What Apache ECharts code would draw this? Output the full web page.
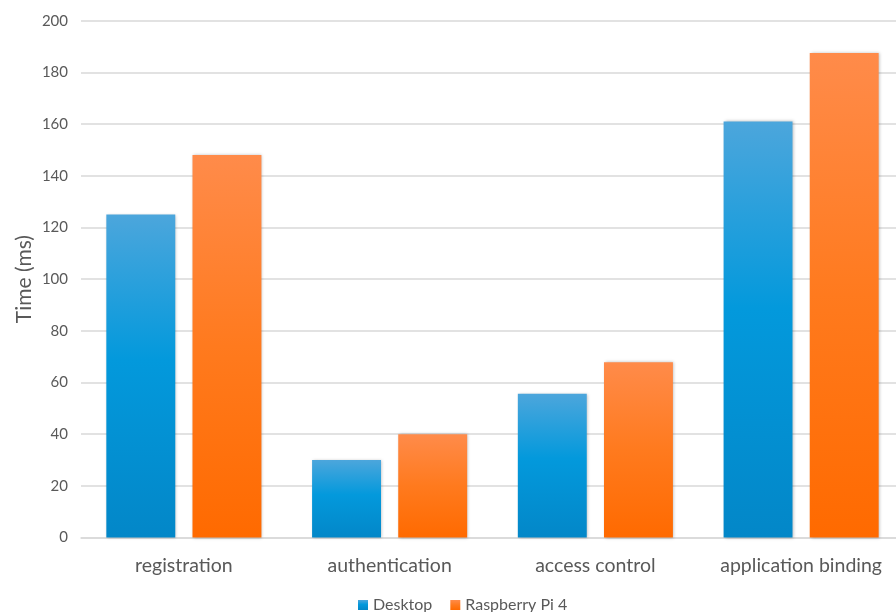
<!DOCTYPE html>
<html>
<head>
<meta charset="utf-8">
<script src="https://cdn.jsdelivr.net/npm/echarts@6/dist/echarts.min.js"></script>
<style>html,body{margin:0;padding:0;background:#fff;overflow:hidden}#c{width:910px;height:612px}</style>
</head>
<body>
<div id="c"></div>
<script>
const categories = ['registration', 'authentication', 'access control', 'application binding'];
const desktop = [125, 30, 55.6, 161];
const raspberry = [148, 40, 67.8, 187.5];
const seriesNames = ['Desktop', 'Raspberry Pi 4'];

const chart = echarts.init(document.getElementById('c'));
const font = 'Lato, "Open Sans", sans-serif';
const blueGrad = new echarts.graphic.LinearGradient(0, 0, 0, 1, [
  {offset: 0, color: '#4ca6dc'},
  {offset: 0.45, color: '#0399dc'},
  {offset: 1, color: '#0387c8'}
]);
const orangeGrad = new echarts.graphic.LinearGradient(0, 0, 0, 1, [
  {offset: 0, color: '#ff8b4a'},
  {offset: 0.5, color: '#ff7a1e'},
  {offset: 1, color: '#ff6a00'}
]);
chart.setOption({
  animation: false,
  textStyle: {fontFamily: font},
  grid: {left: 81, right: 6, top: 20.7, bottom: 612 - 537.5, containLabel: false},
  legend: {
    bottom: -6, left: 353,
    itemWidth: 10, itemHeight: 10, itemGap: 18,
    icon: 'rect',
    textStyle: {color: '#595959', fontSize: 16, fontFamily: font},
    data: seriesNames
  },
  xAxis: {
    type: 'category', data: categories,
    axisLine: {show: true, lineStyle: {color: '#d9d9d9', width: 1.5}},
    axisTick: {show: false},
    axisLabel: {color: '#595959', fontSize: 19.5, margin: 18, fontFamily: font, interval: 0}
  },
  yAxis: {
    type: 'value', min: 0, max: 200, interval: 20,
    name: 'Time (ms)', nameLocation: 'middle', nameGap: 46, nameRotate: 90,
    nameMoveOverlap: false,
    nameTextStyle: {color: '#595959', fontSize: 21, fontFamily: font},
    axisLine: {show: false}, axisTick: {show: false},
    axisLabel: {color: '#595959', fontSize: 15, margin: 13, fontFamily: font},
    splitLine: {lineStyle: {color: '#d9d9d9', width: 1.5}}
  },
  series: [
    {name: seriesNames[0], type: 'bar', data: desktop, barWidth: '33.5%', barGap: '25%',
     itemStyle: {color: blueGrad, shadowColor: 'rgba(0,0,0,0.25)', shadowBlur: 3, shadowOffsetX: 1}},
    {name: seriesNames[1], type: 'bar', data: raspberry, barWidth: '33.5%', barGap: '25%',
     itemStyle: {color: orangeGrad, shadowColor: 'rgba(0,0,0,0.25)', shadowBlur: 3, shadowOffsetX: 1}}
  ]
});
</script>
</body>
</html>
